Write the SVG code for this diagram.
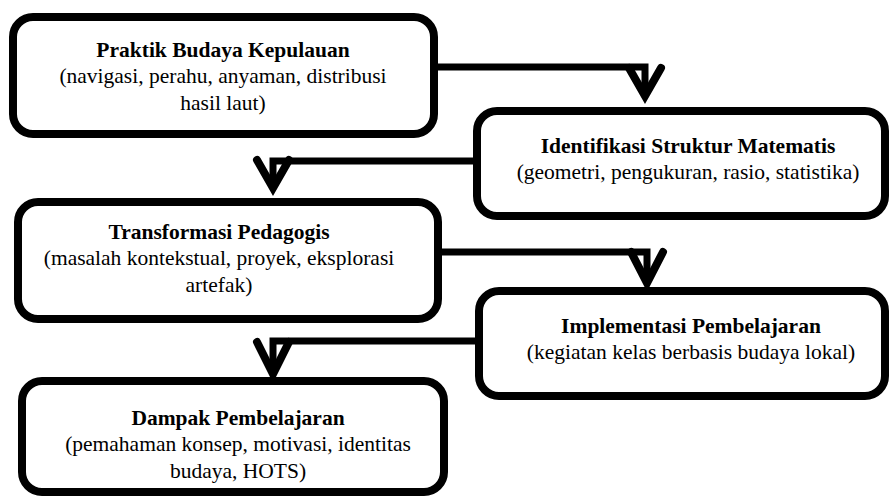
<svg xmlns="http://www.w3.org/2000/svg" width="891" height="498" viewBox="0 0 891 498">
<style>
.box{fill:#fff;stroke:#000;stroke-width:8}
.t{font-family:"Liberation Serif","Times New Roman",serif;font-size:21.5px;fill:#000;text-anchor:middle}
.b{font-weight:bold}
.ln{fill:none;stroke:#000;stroke-width:7}
.hd{fill:none;stroke:#000;stroke-width:8;stroke-linecap:round;stroke-linejoin:miter}
</style>
<rect width="891" height="498" fill="#fff"/>
<g id="connectors">
<path class="ln" d="M438,67 H645 V90"/>
<polyline class="hd" points="629,68 645,96 661,68"/>
<path class="ln" d="M473,161 H273 V182"/>
<polyline class="hd" points="257,160 273,188 289,160"/>
<path class="ln" d="M442,252 H647 V278"/>
<polyline class="hd" points="631,252 647,283 663,252"/>
<path class="ln" d="M475,341 H273 V368"/>
<polyline class="hd" points="257,342 273,374 289,342"/>
</g>
<g id="n1">
<rect class="box" x="13" y="17" width="421" height="117" rx="20"/>
<text class="t b" x="223" y="57">Praktik Budaya Kepulauan</text>
<text class="t" x="223" y="83">(navigasi, perahu, anyaman, distribusi</text>
<text class="t" x="223" y="110">hasil laut)</text>
</g>
<g id="n2">
<rect class="box" x="477" y="111" width="408" height="105" rx="20"/>
<text class="t b" x="688" y="153">Identifikasi Struktur Matematis</text>
<text class="t" x="688" y="179">(geometri, pengukuran, rasio, statistika)</text>
</g>
<g id="n3">
<rect class="box" x="18" y="202" width="420" height="117" rx="20"/>
<text class="t b" x="219" y="239">Transformasi Pedagogis</text>
<text class="t" x="219" y="265">(masalah kontekstual, proyek, eksplorasi</text>
<text class="t" x="219" y="292">artefak)</text>
</g>
<g id="n4">
<rect class="box" x="479" y="291" width="406" height="105" rx="20"/>
<text class="t b" x="691" y="333">Implementasi Pembelajaran</text>
<text class="t" x="691" y="359">(kegiatan kelas berbasis budaya lokal)</text>
</g>
<g id="n5">
<rect class="box" x="22" y="381" width="422" height="111" rx="20"/>
<text class="t b" x="238" y="425">Dampak Pembelajaran</text>
<text class="t" x="238" y="451">(pemahaman konsep, motivasi, identitas</text>
<text class="t" x="238" y="478">budaya, HOTS)</text>
</g>
</svg>
